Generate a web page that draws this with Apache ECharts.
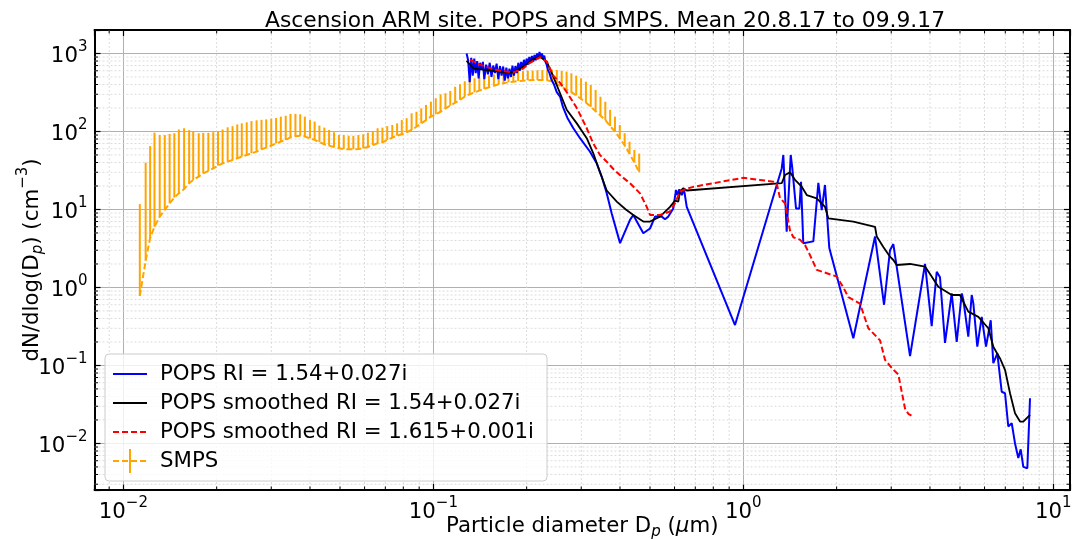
<!DOCTYPE html>
<html><head><meta charset="utf-8">
<script src="https://cdn.jsdelivr.net/npm/echarts@6/dist/echarts.min.js"></script>
<style>html,body{margin:0;padding:0;background:#fff}#c{width:1073px;height:540px}</style>
</head><body><div id="c"></div>
<script>
// ---------- DATA ----------
const titleText = 'Ascension ARM site. POPS and SMPS. Mean 20.8.17 to 09.9.17';
const seriesNames = ['POPS RI = 1.54+0.027i', 'POPS smoothed RI = 1.54+0.027i', 'POPS smoothed RI = 1.615+0.001i', 'SMPS'];
const xTickValues = [0.01, 0.1, 1, 10];
const yTickValues = [0.01, 0.1, 1, 10, 100, 1000];

// SMPS diameters (um), mean dN/dlogDp and upper error value
const smpsDiameter = [
 0.0113,0.0118,0.0122,0.0126,0.0131,0.0136,0.0141,0.0146,0.0151,0.0157,
 0.0163,0.0168,0.0175,0.0181,0.0188,0.0195,0.0202,0.0209,0.0217,0.0225,
 0.0233,0.0241,0.0250,0.0259,0.0269,0.0279,0.0289,0.0300,0.0311,0.0322,
 0.0334,0.0346,0.0359,0.0372,0.0385,0.0400,0.0414,0.0429,0.0445,0.0461,
 0.0478,0.0496,0.0514,0.0533,0.0552,0.0573,0.0594,0.0615,0.0638,0.0661,
 0.0685,0.0710,0.0737,0.0764,0.0791,0.0820,0.0851,0.0882,0.0914,0.0947,
 0.0982,0.1018,0.1055,0.1094,0.1134,0.1176,0.1219,0.1263,0.1310,0.1358,
 0.1407,0.1459,0.1512,0.1568,0.1625,0.1685,0.1747,0.1811,0.1877,0.1946,
 0.2017,0.2091,0.2167,0.2247,0.2329,0.2414,0.2503,0.2595,0.2690,0.2788,
 0.2890,0.2996,0.3106,0.3220,0.3338,0.3460,0.3587,0.3718,0.3854,0.3995,
 0.4142,0.4294,0.4451,0.4614];
const smpsMean = [
 0.78,2.2,4.3,6.0,8.1,9.9,12.0,14.2,16.1,18.3,
 21.7,23.9,26.4,29.1,31.2,33.7,36.5,39.1,41.0,43.1,
 45.3,47.6,50.0,52.5,55.1,59.1,62.0,65.8,70.6,74.0,
 77.8,84,87,88,86,82,78,73,68.5,65.8,
 63.2,60.8,59.7,59.1,59.1,59.7,60.8,63.2,67.1,70.6,
 72.6,77.8,83.3,88.3,92,97.7,104.5,115,127,140,
 155,166,179,198,214,234,255,280,300,318,
 334,351,369,386,403,415,428,435,444,448,
 453,457,457,457,452,440,405,375,345,320,
 290,262,235,207,182,160,140,117,100,82,
 66,52,40,30];
const smpsUpper = [
 11.7,39.8,65,96.5,90,90,93,95,106,110,
 104,101,95,96,96,98,101,106,113,117,
 123,127,131,136,139,141,143,146,149,155,
 159,168,168,166,155,140,134,119,112,104.5,
 97.7,90.2,90,88.3,88,90,92,96.5,101,110,
 112,117,121,127,140,148,171,179,198,219,
 241,267,300,309,331,375,403,440,465,480,
 495,510,525,540,550,560,570,580,590,595,
 600,605,610,612,615,620,615,600,585,557,
 520,481,435,394,341,279,241,189,155,121,
 95,74,58,52];

// POPS raw [diameter um, dN/dlogDp]
const popsRaw = [
 [0.1280,1000],[0.1295,820],[0.1310,430],[0.1325,880],[0.1340,520],[0.1355,860],[0.1370,560],[0.1385,800],
 [0.1400,480],[0.1415,760],[0.1430,620],[0.1445,780],[0.1460,470],[0.1480,720],[0.1500,540],[0.1520,760],
 [0.1540,500],[0.1560,700],[0.1580,560],[0.1600,740],[0.1620,470],[0.1640,690],[0.1660,520],[0.1680,680],
 [0.1700,450],[0.1720,660],[0.1740,480],[0.1760,640],[0.1780,500],[0.1800,700],[0.1820,520],[0.1840,690],
 [0.1860,560],[0.1880,760],[0.1900,600],[0.1920,780],[0.1940,640],[0.1960,830],[0.1980,680],[0.2000,860],
 [0.2020,720],[0.2040,900],[0.2060,760],[0.2080,930],[0.2100,780],[0.2120,960],[0.2140,820],[0.2160,1000],
 [0.2180,850],[0.2200,1050],[0.2220,880],[0.2240,1000],[0.2260,860],[0.2280,940],[0.2300,780],[0.2320,720],
 [0.2340,620],[0.2370,560],[0.2400,470],[0.2450,400],[0.2501,320],[0.2563,280],[0.2620,205],[0.2705,150],
 [0.2829,110],[0.2973,82],[0.3202,55],[0.3365,39],[0.3492,26.4],[0.3625,16.1],[0.3762,8.9],[0.4002,3.7],
 [0.4310,7.35],[0.4416,8.5],[0.4757,4.95],[0.5000,5.7],[0.5190,8.1],[0.5453,8.1],[0.5589,7.5],[0.5728,8.1],
 [0.5943,10.3],[0.6066,17.8],[0.6125,15.3],[0.6216,18.1],[0.6329,15.3],[0.6437,18.1],[0.6568,10.8],[0.9401,0.33],
 [1.330,33.6],[1.346,50],[1.380,5.2],[1.422,50],[1.439,33.6],[1.479,10.3],[1.516,10.3],[1.535,22.7],
 [1.561,3.7],[1.682,3.9],[1.746,22],[1.790,9.8],[1.834,20.6],[1.894,3.2],[2.264,0.223],[2.660,4.5],
 [2.844,0.60],[2.973,3.0],[3.047,3.6],[3.450,0.132],[3.856,2.0],[4.052,0.32],[4.206,1.59],[4.310,1.35],
 [4.473,0.195],[4.701,0.84],[4.880,0.20],[5.066,0.84],[5.127,0.69],[5.318,0.234],[5.455,0.80],[5.520,0.63],
 [5.686,0.174],[5.875,0.42],[6.066,0.174],[6.282,0.38],[6.404,0.107],[6.598,0.143],[6.816,0.046],[6.986,0.044],
 [7.158,0.0165],[7.342,0.0182],[7.525,0.010],[7.711,0.0065],[7.849,0.0084],[8.002,0.0050],[8.245,0.0048],[8.411,0.038]];

// POPS smoothed RI = 1.54+0.027i
const popsSmooth = [
 [0.1279,807],[0.1346,646],[0.1524,602],[0.1725,574],[0.1813,574],[0.1951,678],[0.2097,843],[0.2209,910],
 [0.2321,785],[0.2438,504],[0.2563,309],[0.2693,190],[0.2902,127],[0.3125,82],[0.3281,52.5],[0.3448,30],
 [0.3625,17.5],[0.3905,12.6],[0.4178,10],[0.4416,8.5],[0.4757,7.0],[0.5000,7.0],[0.5385,8.1],[0.5801,10.8],
 [0.6021,13],[0.6170,12.6],[0.6248,17],[0.6405,18.7],[0.6568,17.5],[1.330,21.7],[1.346,22],[1.363,27.7],
 [1.414,29.9],[1.468,24],[1.543,19.6],[1.602,15.3],[1.725,13.9],[1.790,12],[1.834,10.8],[1.880,7.7],
 [2.264,7.0],[2.660,6.0],[2.694,4.5],[2.829,3.3],[2.973,2.48],[3.047,2.25],[3.125,1.94],[3.450,2.0],
 [3.856,1.85],[4.002,1.49],[4.256,1.02],[4.701,0.80],[5.000,0.80],[5.318,0.49],[5.730,0.42],[6.171,0.30],
 [6.404,0.174],[6.731,0.123],[6.986,0.088],[7.251,0.044],[7.525,0.0244],[7.809,0.0191],[8.002,0.0191],[8.411,0.0232]];

// POPS smoothed RI = 1.615+0.001i
const popsSmooth1615 = [
 [0.1313,830],[0.1415,720],[0.1524,650],[0.1641,600],[0.1807,572],[0.1948,640],[0.2051,760],[0.2209,900],
 [0.2321,790],[0.2438,520],[0.2563,420],[0.2693,320],[0.2902,200],[0.3125,110],[0.3281,70],[0.3448,50],
 [0.3625,41],[0.3807,33],[0.4053,26.4],[0.4310,21.7],[0.4643,16.1],[0.4880,10.8],[0.5000,8.5],[0.5385,8.5],
 [0.5801,9.4],[0.6021,12],[0.6248,17],[0.6568,18.5],[0.6899,19.5],[1.000,25.5],[1.132,23.9],[1.250,22.7],
 [1.281,21.7],[1.313,14],[1.363,12],[1.414,5.4],[1.450,4.4],[1.523,4.1],[1.581,3.5],[1.641,2.6],
 [1.725,1.68],[2.001,1.38],[2.102,1.0],[2.182,0.75],[2.379,0.62],[2.531,0.30],[2.761,0.21],[2.865,0.118],
 [3.047,0.088],[3.162,0.077],[3.243,0.046],[3.324,0.028],[3.406,0.024],[3.535,0.022]];

// ---------- CHART ----------
const FONT = 'DejaVu Sans';
const FS = 21.3, FSS = 15;
const X_MIN = 0.00807, X_MAX = 11.32, Y_MIN = 0.00253, Y_MAX = 2000;
const chart = echarts.init(document.getElementById('c'), null, {renderer: 'canvas'});

function isPow10(v) { const l = Math.log10(v); return Math.abs(l - Math.round(l)) < 1e-6; }
function expLabel(v) {
  if (!isPow10(v)) return '';
  const e = Math.round(Math.log10(v));
  return '{b|10}{s|' + (e < 0 ? '\u2212' + (-e) : e) + '}';
}
const richTick = {
  b: {fontSize: FS, fontFamily: FONT, color: '#000', lineHeight: 27, verticalAlign: 'bottom'},
  s: {fontSize: FSS, fontFamily: FONT, color: '#000', lineHeight: 16, verticalAlign: 'top'}
};
const tickStyle = {show: true, inside: true, length: 6, lineStyle: {color: '#000', width: 1.2}};
const spine = {show: true, onZero: false, lineStyle: {color: '#000', width: 2}};

// minor grid lines and minor ticks (positions of 2..9 x 10^k, placed via the axis scales)
const minorMult = [2,3,4,5,6,7,8,9];
function renderMinor(params, api) {
  const cs = params.coordSys;
  const L = cs.x, R = cs.x + cs.width, T = cs.y, B = cs.y + cs.height;
  const ch = [];
  const grid = {stroke: '#d4d4d4', lineWidth: 0.8, lineDash: [2, 2]};
  const tk = {stroke: '#000', lineWidth: 1};
  for (let e = -3; e <= 1; e++) {
    minorMult.forEach(m => {
      const v = m * Math.pow(10, e);
      if (v > X_MIN && v < X_MAX) {
        const px = api.coord([v, 1])[0];
        ch.push({type: 'line', shape: {x1: px, y1: T, x2: px, y2: B}, style: grid, silent: true});
        ch.push({type: 'line', shape: {x1: px, y1: B, x2: px, y2: B - 3.5}, style: tk, silent: true});
        ch.push({type: 'line', shape: {x1: px, y1: T, x2: px, y2: T + 3.5}, style: tk, silent: true});
      }
    });
  }
  for (let e = -3; e <= 3; e++) {
    minorMult.forEach(m => {
      const v = m * Math.pow(10, e);
      if (v > Y_MIN && v < Y_MAX) {
        const py = api.coord([1, v])[1];
        ch.push({type: 'line', shape: {x1: L, y1: py, x2: R, y2: py}, style: grid, silent: true});
        ch.push({type: 'line', shape: {x1: L, y1: py, x2: L + 3.5, y2: py}, style: tk, silent: true});
        ch.push({type: 'line', shape: {x1: R, y1: py, x2: R - 3.5, y2: py}, style: tk, silent: true});
      }
    });
  }
  return {type: 'group', children: ch};
}

function renderErr(params, api) {
  const p0 = api.coord([api.value(0), api.value(1)]);
  const p1 = api.coord([api.value(0), api.value(2)]);
  return {type: 'line', shape: {x1: p0[0], y1: p0[1], x2: p1[0], y2: p1[1]},
          style: {stroke: '#ffa500', lineWidth: 2}};
}

// legend drawn as graphic (matplotlib style)
const LX = 105, LY = 354, LW = 442, LH = 127;
const rowY = [374, 403, 432, 461];
const hx1 = 113, hx2 = 147, tx = 160;
const legendGraphic = [
  {type: 'rect', shape: {x: LX, y: LY, width: LW, height: LH, r: 4},
   style: {fill: 'rgba(255,255,255,0.8)', stroke: '#cccccc', lineWidth: 1}, z: 100},
  {type: 'line', shape: {x1: hx1, y1: rowY[0], x2: hx2, y2: rowY[0]}, style: {stroke: '#0000ff', lineWidth: 2}, z: 101},
  {type: 'line', shape: {x1: hx1, y1: rowY[1], x2: hx2, y2: rowY[1]}, style: {stroke: '#000000', lineWidth: 1.8}, z: 101},
  {type: 'line', shape: {x1: hx1, y1: rowY[2], x2: hx2, y2: rowY[2]}, style: {stroke: '#ff0000', lineWidth: 2, lineDash: [6, 3]}, z: 101},
  {type: 'line', shape: {x1: hx1, y1: rowY[3], x2: hx2, y2: rowY[3]}, style: {stroke: '#ffa500', lineWidth: 2, lineDash: [6, 3]}, z: 101},
  {type: 'line', shape: {x1: (hx1 + hx2) / 2, y1: rowY[3] - 12, x2: (hx1 + hx2) / 2, y2: rowY[3] + 12}, style: {stroke: '#ffa500', lineWidth: 2}, z: 101}
].concat(seriesNames.map((n, i) => ({
  type: 'text', x: tx, y: rowY[i], z: 101,
  style: {text: n, fill: '#000', font: FS + 'px "DejaVu Sans"', verticalAlign: 'middle', align: 'left'}
})));

const logX = (extra) => Object.assign({
  type: 'log', logBase: 10, min: X_MIN, max: X_MAX, axisLine: spine, axisTick: tickStyle,
  splitLine: {show: false}, minorTick: {show: false}
}, extra);
const logY = (extra) => Object.assign({
  type: 'log', logBase: 10, min: Y_MIN, max: Y_MAX, axisLine: spine, axisTick: tickStyle,
  splitLine: {show: false}, minorTick: {show: false}
}, extra);

const option = {
  animation: false,
  backgroundColor: '#fff',
  title: {text: titleText, left: 600, top: 5, textAlign: 'center',
          textStyle: {fontFamily: FONT, fontSize: 21.8, fontWeight: 'normal', color: '#000'}},
  grid: {left: 94.5, right: 3, top: 30, bottom: 50, containLabel: false, outerBoundsMode: 'none'},
  xAxis: [
    logX({position: 'bottom',
      splitLine: {show: true, lineStyle: {color: '#b0b0b0', width: 1}},
      axisLabel: {show: true, margin: 6, formatter: expLabel, rich: richTick},
      name: '{a|Particle diameter D}{sub|p}{a| (}{i|\u03bc}{a|m)}', nameLocation: 'middle', nameGap: 20,
      nameMoveOverlap: false,
      nameTextStyle: {rich: {
        a: {fontSize: FS, fontFamily: FONT, color: '#000', lineHeight: 27, verticalAlign: 'bottom'},
        i: {fontSize: FS, fontFamily: FONT, fontStyle: 'italic', color: '#000', lineHeight: 27, verticalAlign: 'bottom'},
        sub: {fontSize: FSS, fontFamily: FONT, fontStyle: 'italic', color: '#000', lineHeight: 16, verticalAlign: 'bottom', padding: [0, 0, -3, 0]}
      }}}),
    logX({position: 'top', axisLabel: {show: false}})
  ],
  yAxis: [
    logY({position: 'left',
      splitLine: {show: true, lineStyle: {color: '#b0b0b0', width: 1}},
      axisLabel: {show: true, margin: 7, formatter: expLabel, rich: richTick},
      name: '{a|dN/dlog(D}{sub|p}{a|) (cm}{sup|\u22123}{a|)}', nameLocation: 'middle', nameGap: 52, nameRotate: 90,
      nameMoveOverlap: false,
      nameTextStyle: {rich: {
        a: {fontSize: FS, fontFamily: FONT, color: '#000', lineHeight: 27, verticalAlign: 'bottom'},
        sub: {fontSize: FSS, fontFamily: FONT, fontStyle: 'italic', color: '#000', lineHeight: 16, verticalAlign: 'bottom', padding: [0, 0, -3, 0]},
        sup: {fontSize: FSS, fontFamily: FONT, color: '#000', lineHeight: 16, verticalAlign: 'top'}
      }}}),
    logY({position: 'right', axisLabel: {show: false}})
  ],
  graphic: legendGraphic,
  series: [
    {type: 'custom', name: 'minorGrid', renderItem: renderMinor, data: [[1, 1]], z: 1, silent: true,
     xAxisIndex: 0, yAxisIndex: 0, encode: {x: 0, y: 1}},
    {type: 'custom', name: 'SMPS err', renderItem: renderErr, z: 3, silent: true,
     xAxisIndex: 0, yAxisIndex: 0, encode: {x: 0, y: [1, 2]},
     data: smpsDiameter.map((d, i) => [d, smpsMean[i], smpsUpper[i]])},
    {type: 'line', name: seriesNames[3], z: 3, symbol: 'none', showSymbol: false,
     lineStyle: {color: '#ffa500', width: 2, type: [6, 3]},
     data: smpsDiameter.map((d, i) => [d, smpsMean[i]])},
    {type: 'line', name: seriesNames[0], z: 4, symbol: 'none', showSymbol: false,
     lineStyle: {color: '#0000ff', width: 2}, data: popsRaw},
    {type: 'line', name: seriesNames[1], z: 5, symbol: 'none', showSymbol: false,
     lineStyle: {color: '#000000', width: 1.8}, data: popsSmooth},
    {type: 'line', name: seriesNames[2], z: 6, symbol: 'none', showSymbol: false,
     lineStyle: {color: '#ff0000', width: 2, type: [6, 3]}, data: popsSmooth1615}
  ]
};
chart.setOption(option);
</script>
</body></html>
